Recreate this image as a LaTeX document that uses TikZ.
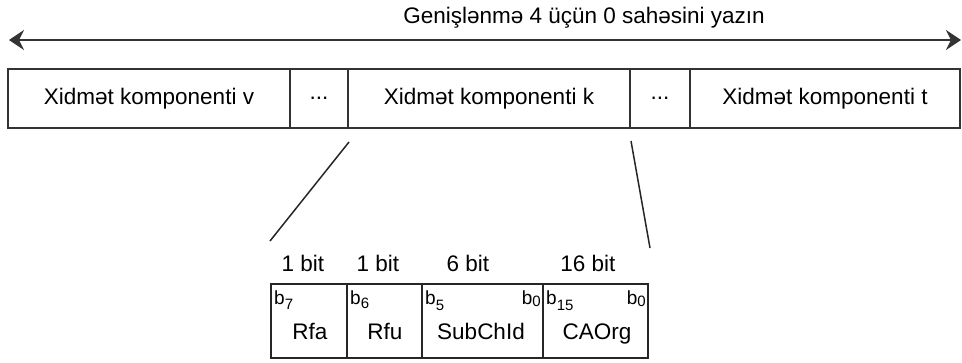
\documentclass[tikz,border=0pt]{standalone}
\usepackage{fontspec}
\setmainfont{Liberation Sans}
\usetikzlibrary{arrows.meta}
\newcommand\bsubl[2]{b\raisebox{-#2}{\fontsize{15}{15}\selectfont #1}}
\begin{document}
\begin{tikzpicture}[x=1pt,y=-1pt,
  cell/.style={draw=black!80, line width=2pt, minimum height=59pt, inner sep=0pt, outer sep=0pt, font=\fontsize{22.5}{22.5}\selectfont},
  field/.style={draw=black!85, line width=1.6pt, minimum height=74pt, inner sep=0pt, outer sep=0pt},
  fname/.style={anchor=base, inner sep=0pt, font=\fontsize{22.5}{22.5}\selectfont},
  bitlbl/.style={anchor=base, inner sep=0pt, font=\fontsize{22.5}{22.5}\selectfont},
  blbl/.style={inner sep=0pt, font=\fontsize{19}{19}\selectfont},
  conn/.style={draw=black!85, line width=1.5pt},
  span/.style={draw=black!80, line width=2pt, {Stealth[length=15pt,width=20pt]}-{Stealth[length=15pt,width=20pt]}}
]
\useasboundingbox (0,0) rectangle (962,362);

% title and arrow
\node[anchor=base, inner sep=0pt, font=\fontsize{22.5}{22.5}\selectfont] (title) at (584,23) {Genişlənmə 4 üçün 0 sahəsini yazın};
\coordinate (aL) at (9,40);
\coordinate (aR) at (961,40);
\draw[span] (aL) -- (aR);

% top row
\node[cell, minimum width=282pt] (cv) at (149,98.5) {Xidmət komponenti v};
\node[cell, minimum width=58pt] (d1) at (319,98.5) {...};
\node[cell, minimum width=282pt] (ck) at (489,98.5) {Xidmət komponenti k};
\node[cell, minimum width=60pt] (d2) at (660,98.5) {...};
\node[cell, minimum width=270pt] (ct) at (825,98.5) {Xidmət komponenti t};

% zoom lines
\coordinate (z1a) at (349,142);
\coordinate (z1b) at (270,241);
\coordinate (z2a) at (631,141);
\coordinate (z2b) at (650,248);
\draw[conn] (z1a) -- (z1b);
\draw[conn] (z2a) -- (z2b);

% bit sizes
\node[bitlbl] (s1) at (303,271) {1 bit};
\node[bitlbl] (s2) at (378,271) {1 bit};
\node[bitlbl] (s3) at (468,271) {6 bit};
\node[bitlbl] (s4) at (588,271) {16 bit};

% fields
\node[field, minimum width=76pt] (rfa) at (309,321) {};
\node[field, minimum width=75pt] (rfu) at (384.5,321) {};
\node[field, minimum width=121pt] (sub) at (482.5,321) {};
\node[field, minimum width=105pt] (cao) at (595.5,321) {};

\node[fname] (trfa) at (310,339) {Rfa};
\node[fname] (trfu) at (385,339) {Rfu};
\node[fname] (tsub) at (481,339) {SubChId};
\node[fname] (tcao) at (597,339) {CAOrg};

\node[blbl, anchor=base west] (b7) at (274,304) {\bsubl{7}{5pt}};
\node[blbl, anchor=base west] (b6) at (350,304) {\bsubl{6}{4pt}};
\node[blbl, anchor=base west] (b5) at (425,304) {\bsubl{5}{6pt}};
\node[blbl, anchor=base east] (b0a) at (541,304) {\bsubl{0}{2pt}};
\node[blbl, anchor=base west] (b15) at (546,304) {\bsubl{15}{6pt}};
\node[blbl, anchor=base east] (b0b) at (646,304) {\bsubl{0}{2pt}};
\end{tikzpicture}
\end{document}
